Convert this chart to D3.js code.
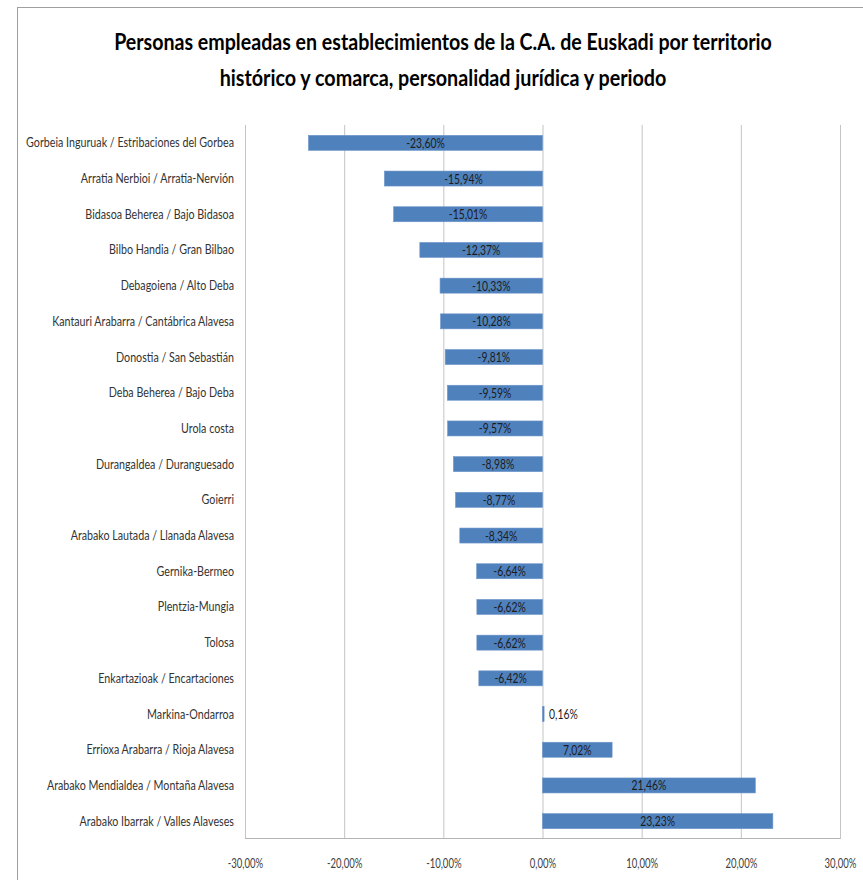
<!DOCTYPE html>
<html>
<head>
<meta charset="utf-8">
<script src="https://cdn.jsdelivr.net/npm/d3@7"></script>
<style>
  html, body { margin: 0; padding: 0; background: #ffffff; }
  svg { display: block; }
</style>
</head>
<body>
<svg id="chart" width="863" height="880"></svg>
<script>
// ---- data ----
const titleLines = [
  "Personas empleadas en establecimientos de la C.A. de Euskadi por territorio",
  "histórico y comarca, personalidad jurídica y periodo"
];
const categories = [
  "Gorbeia Inguruak / Estribaciones del Gorbea",
  "Arratia Nerbioi / Arratia-Nervión",
  "Bidasoa Beherea / Bajo Bidasoa",
  "Bilbo Handia / Gran Bilbao",
  "Debagoiena / Alto Deba",
  "Kantauri Arabarra / Cantábrica Alavesa",
  "Donostia / San Sebastián",
  "Deba Beherea / Bajo Deba",
  "Urola costa",
  "Durangaldea / Duranguesado",
  "Goierri",
  "Arabako Lautada / Llanada Alavesa",
  "Gernika-Bermeo",
  "Plentzia-Mungia",
  "Tolosa",
  "Enkartazioak / Encartaciones",
  "Markina-Ondarroa",
  "Errioxa Arabarra / Rioja Alavesa",
  "Arabako Mendialdea / Montaña Alavesa",
  "Arabako Ibarrak / Valles Alaveses"
];
const values = [
  -23.60, -15.94, -15.01, -12.37, -10.33, -10.28, -9.81, -9.59, -9.57, -8.98,
  -8.77, -8.34, -6.64, -6.62, -6.62, -6.42, 0.16, 7.02, 21.46, 23.23
];
const tickValues = [-30, -20, -10, 0, 10, 20, 30];

// ---- setup ----
const svg = d3.select("#chart");
const FONT = "Lato, 'Open Sans', 'DejaVu Sans', sans-serif";
const locale = d3.formatLocale({decimal: ",", thousands: ".", grouping: [3], currency: ["", "€"], minus: "-"});
const fmt = v => locale.format(".2f")(v) + "%";

const plot = {left: 245, right: 840, top: 125, bottom: 839};
const x = d3.scaleLinear().domain([-30, 30]).range([plot.left, plot.right]);
const y = d3.scaleBand().domain(categories).range([plot.top, plot.bottom])
  .paddingInner(0.58).paddingOuter(0.29);

const data = categories.map((c, i) => ({cat: c, val: values[i]}));

// chart area border
svg.append("rect")
  .attr("x", 17.5).attr("y", 7.5).attr("width", 900).attr("height", 900)
  .attr("fill", "none").attr("stroke", "#9f9f9f").attr("stroke-width", 1);

// compress text horizontally (narrow look of the original) with a transform
function squeeze(sel, k) {
  sel.each(function() {
    const t = d3.select(this);
    const kk = typeof k === "function" ? k(this) : k;
    const tx = +(t.attr("x") || 0), ty = +(t.attr("y") || 0);
    t.attr("x", 0).attr("y", 0)
     .attr("transform", `translate(${tx},${ty}) scale(${kk},1)`);
  });
}

// title
const titleTargets = [658, 447];
const titles = svg.append("g").selectAll("text").data(titleLines).join("text")
  .attr("x", 443)
  .attr("y", (d, i) => 50 + i * 36)
  .attr("text-anchor", "middle")
  .attr("font-family", FONT)
  .attr("font-weight", "bold")
  .attr("font-size", 23)
  .attr("fill", "#000")
  .text(d => d);
squeeze(titles, function(node) {
  const i = titleLines.indexOf(node.textContent);
  return titleTargets[i] / node.getComputedTextLength();
});

// x axis with gridlines
const xAxis = svg.append("g")
  .attr("transform", `translate(0,${plot.bottom})`)
  .call(d3.axisBottom(x).tickValues(tickValues).tickFormat(fmt)
    .tickSize(-(plot.bottom - plot.top)).tickPadding(19));
xAxis.select(".domain").remove();
xAxis.selectAll(".tick line").attr("stroke", "#c4c4c4").attr("stroke-width", 1);
xAxis.selectAll(".tick text")
  .attr("font-family", FONT).attr("font-size", 14).attr("fill", "#404040");
squeeze(xAxis.selectAll(".tick text"), 0.68);

// bottom axis line
svg.append("line")
  .attr("x1", plot.left).attr("x2", plot.right)
  .attr("y1", plot.bottom - 0.5).attr("y2", plot.bottom - 0.5)
  .attr("stroke", "#b4b4b4").attr("stroke-width", 1);

// y axis labels
const yAxis = svg.append("g")
  .attr("transform", `translate(${plot.left},0)`)
  .call(d3.axisLeft(y).tickSize(0).tickPadding(11));
yAxis.select(".domain").remove();
yAxis.selectAll(".tick text")
  .attr("font-family", FONT).attr("font-size", 14).attr("fill", "#333333");
(function() {
  const nodes = yAxis.selectAll(".tick text").nodes();
  const longest = d3.max(nodes, n => n.getComputedTextLength());
  squeeze(yAxis.selectAll(".tick text"), 208 / longest);
})();

// bars
svg.append("g").selectAll("rect").data(data).join("rect")
  .attr("x", d => x(Math.min(0, d.val)))
  .attr("y", d => y(d.cat))
  .attr("width", d => Math.abs(x(d.val) - x(0)))
  .attr("height", y.bandwidth())
  .attr("fill", "#4f81bd")
  .attr("stroke", "#6b95c9")
  .attr("stroke-width", 0.6);

// data labels
const LABEL_K = 0.74;
const labels = svg.append("g").selectAll("text").data(data).join("text")
  .attr("y", d => y(d.cat) + y.bandwidth() / 2 + 5)
  .attr("font-family", FONT).attr("font-size", 14).attr("fill", "#1c1c1c")
  .text(d => fmt(d.val));
labels.each(function(d) {
  const w = this.getComputedTextLength() * LABEL_K;
  const bw = Math.abs(x(d.val) - x(0));
  const t = d3.select(this);
  if (bw < w + 4) {
    t.attr("x", x(Math.max(0, d.val)) + 5).attr("text-anchor", "start");
  } else {
    t.attr("x", (x(d.val) + x(0)) / 2).attr("text-anchor", "middle");
  }
});
squeeze(labels, LABEL_K);
</script>
</body>
</html>
